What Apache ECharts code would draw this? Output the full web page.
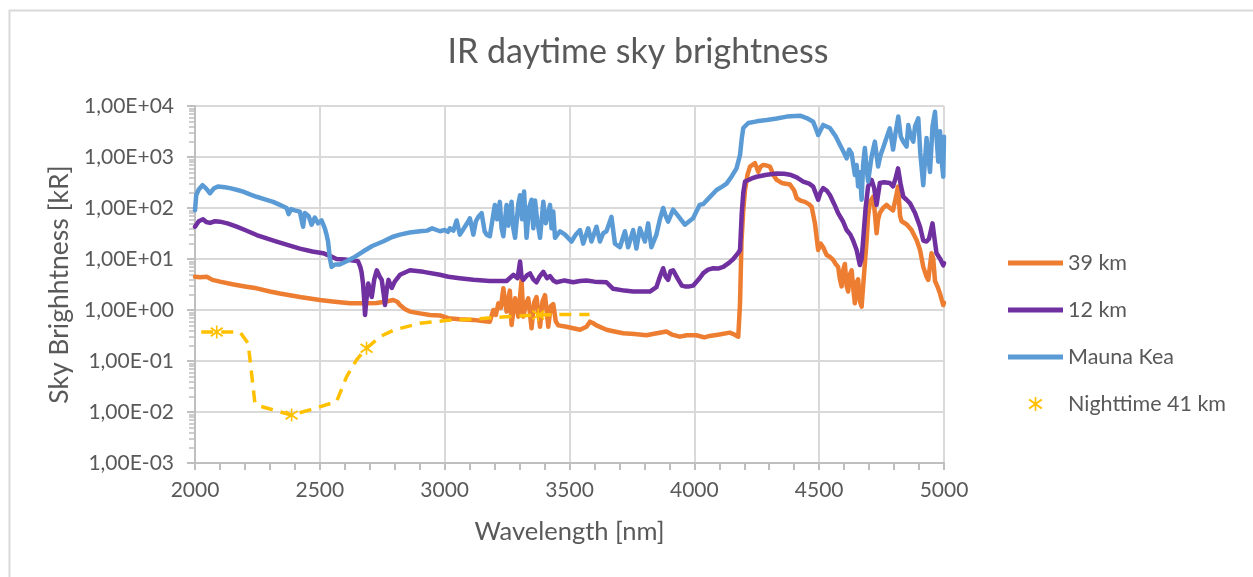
<!DOCTYPE html>
<html>
<head>
<meta charset="utf-8">
<script src="https://cdn.jsdelivr.net/npm/echarts@6/dist/echarts.min.js"></script>
<style>
html,body{margin:0;padding:0;background:#fff;}
#chart{width:1253px;height:577px;}
</style>
</head>
<body>
<div id="chart"></div>
<script>
// ---------- DATA ----------
const chartTitle = 'IR daytime sky brightness';
const xAxisName = 'Wavelength [nm]';
const yAxisName = 'Sky Brighhtness [kR]';
const seriesNames = ['39 km', '12 km', 'Mauna Kea', 'Nighttime 41 km'];
const yTickLabels = ['1,00E-03','1,00E-02','1,00E-01','1,00E+00','1,00E+01','1,00E+02','1,00E+03','1,00E+04'];

const wl39 = [2000,2020,2047,2070,2100,2150,2200,2247,2300,2340,2380,2420,2460,2500,2560,2621,2680,2728,2760,2794,2810,2821,2840,2861,2900,2941,2981,3015,3060,3115,3160,3181,3195,3205,3215,3225,3235,3248,3261,3268,3282,3295,3308,3315,3325,3335,3348,3358,3368,3382,3392,3402,3415,3425,3435,3445,3455,3488,3515,3542,3568,3582,3595,3608,3648,3680,3715,3760,3808,3850,3888,3910,3942,3970,4008,4040,4062,4100,4142,4160,4176,4183,4189,4196,4203,4213,4223,4233,4243,4256,4266,4276,4290,4303,4316,4330,4350,4383,4400,4410,4425,4443,4460,4470,4483,4496,4506,4516,4530,4543,4556,4566,4576,4583,4590,4596,4603,4610,4616,4623,4630,4637,4643,4650,4656,4663,4670,4676,4683,4690,4696,4703,4716,4723,4730,4736,4743,4756,4770,4783,4796,4806,4816,4824,4830,4850,4870,4891,4904,4917,4930,4937,4950,4957,4964,4975,4984,4997,5000];
const val39 = [4.5,4.4,4.5,3.9,3.6,3.2,2.9,2.66,2.3,2.1,1.95,1.8,1.68,1.57,1.45,1.35,1.35,1.37,1.45,1.57,1.45,1.25,1.05,0.93,0.86,0.8,0.78,0.69,0.66,0.64,0.6,0.59,1.0,0.8,1.35,1.1,2.66,0.93,2.4,0.51,1.7,0.74,3.9,0.74,1.3,1.7,0.44,1.4,1.8,0.47,1.5,1.95,0.47,1.2,1.3,0.6,0.5,0.47,0.44,0.41,0.47,0.59,0.55,0.5,0.41,0.38,0.35,0.34,0.32,0.35,0.38,0.33,0.30,0.32,0.32,0.29,0.31,0.33,0.36,0.33,0.30,1.35,23,90,225,450,650,700,755,515,650,700,680,650,450,355,310,290,220,155,140,132,118,105,50,15,20,17,12,11,9.6,8,7,4,2.9,6,8,3,2.3,5,6,2.5,1.35,3.5,4,1.5,1.16,2.9,8,23,70,130,165,80,32,60,80,100,115,100,90,150,265,70,55,48,37,23,15,7,4.5,3.9,13,10,3.7,2.8,2.1,1.25,1.4];

const wl12 = [2000,2015,2032,2045,2060,2080,2100,2130,2167,2200,2247,2290,2327,2370,2420,2470,2513,2540,2567,2600,2620,2653,2662,2667,2673,2678,2681,2686,2694,2708,2718,2728,2740,2748,2756,2761,2768,2775,2788,2800,2821,2861,2915,2981,3015,3060,3115,3180,3248,3275,3292,3302,3308,3315,3330,3342,3355,3368,3380,3395,3410,3422,3435,3448,3480,3515,3542,3568,3600,3648,3675,3720,3755,3790,3822,3848,3862,3875,3885,3895,3905,3915,3935,3950,3962,3980,3995,4021,4036,4055,4076,4095,4116,4140,4156,4175,4183,4190,4196,4203,4230,4250,4290,4330,4360,4383,4410,4436,4460,4476,4496,4505,4516,4530,4543,4560,4576,4595,4610,4625,4636,4650,4663,4670,4676,4686,4696,4710,4720,4730,4743,4760,4783,4796,4806,4816,4826,4837,4850,4864,4884,4904,4917,4930,4940,4954,4962,4970,4985,4997,5000];
const val12 = [43,55,60,53,51,55,54,50,43,37,29.5,25,22,19,16,14,13,11.5,10,9.8,9.5,9,7,5.6,3.3,1.5,0.8,1.5,3.3,1.8,4,6,4.5,3.9,2,1.25,2.5,3.9,2.7,3.6,4.9,6,5.6,4.9,4.5,4.2,3.9,3.7,3.7,4.9,4.2,8.9,4.5,3.9,4.8,5.2,4,3.5,4.5,5.6,4.2,4.6,3.8,3.5,3.8,3.5,3.7,3.8,3.6,3.5,2.6,2.4,2.3,2.3,2.3,2.8,4.5,6.6,4.5,3.9,5.8,6,4,3,2.9,2.9,3,4.2,5.3,6.2,6.6,6.5,7,8.5,10,13,15,80,200,330,380,410,450,475,470,450,400,330,300,263,145,200,245,220,180,120,79,55,37,30,23,15,7.6,10,23,100,265,355,250,115,310,320,310,265,380,600,300,166,145,123,80,43,23,22,25,50,25,13,10,7.5,8.3];

const wlMK = [2000,2005,2015,2030,2045,2060,2075,2092,2120,2140,2170,2193,2220,2247,2280,2313,2340,2367,2375,2385,2400,2420,2428,2433,2440,2455,2467,2480,2493,2507,2520,2527,2533,2540,2547,2560,2580,2607,2640,2673,2710,2753,2790,2821,2860,2901,2930,2950,2968,2981,3000,3013,3021,3035,3048,3061,3081,3095,3101,3115,3125,3135,3148,3160,3168,3181,3201,3210,3221,3228,3235,3248,3255,3268,3275,3282,3295,3302,3310,3318,3328,3338,3348,3355,3362,3370,3382,3395,3405,3422,3428,3435,3442,3462,3482,3508,3525,3542,3555,3575,3588,3608,3622,3635,3648,3668,3682,3702,3722,3735,3755,3768,3782,3802,3815,3828,3848,3862,3875,3885,3895,3915,3935,3962,3995,4021,4036,4060,4089,4110,4129,4150,4169,4183,4190,4196,4216,4250,4290,4330,4370,4423,4450,4476,4490,4496,4516,4543,4565,4583,4600,4610,4620,4630,4643,4650,4656,4663,4670,4676,4683,4690,4696,4710,4723,4736,4746,4756,4770,4783,4796,4806,4817,4827,4837,4850,4857,4866,4877,4884,4897,4905,4917,4925,4930,4937,4944,4954,4964,4970,4977,4984,4990,4997,5000];
const valMK = [90,180,230,280,240,195,240,265,255,245,225,210,185,166,148,132,115,100,76,95,90,85,55,43,80,70,47,65,50,57,40,30,22,10.5,7,7.8,7.8,9,11,14,18,22,27,30,33,35,36,40,37,35,37,34,40,36,57,30,43,55,63,30,55,67,79,35,30,28,115,60,132,40,28,115,45,132,40,26,120,178,60,210,26,100,145,40,140,60,26,132,50,115,40,85,26,35,30,22,30,37,20,40,22,43,22,32,35,67,20,17,35,17,37,16,40,22,50,17,30,60,100,70,54,93,70,47,63,115,120,160,225,260,300,420,600,1100,2300,3700,4650,5000,5300,5700,6200,6450,5800,4900,3300,2700,4250,3700,2600,1730,1200,940,1400,1170,445,700,265,500,145,700,1500,600,330,1020,2000,650,1100,1500,2400,3650,1400,3000,6200,2500,2000,1600,4250,2600,2000,4000,5700,1200,280,265,2350,1000,510,4000,7700,2500,810,3200,900,410,2500];

const wlNight = [2025,2087,2180,2213,2240,2260,2313,2387,2460,2567,2607,2647,2687,2741,2794,2901,3015,3115,3248,3375,3488,3580];
const valNight = [0.37,0.37,0.37,0.22,0.015,0.013,0.011,0.0087,0.011,0.016,0.049,0.105,0.178,0.3,0.4,0.55,0.63,0.66,0.74,0.8,0.82,0.82];
const nightMarkerWl = [2087,2387,2687,3375];

// ---------- STYLE ----------
const colors = ['#ED7D31', '#7030A0', '#5B9BD5', '#FFC000'];
const FONT = 'Lato';
const TXT = '#595959';
const asterisk = 'path://M4.4,0 L5.6,0 L5.6,10 L4.4,10 Z M0,2.3 L0.9,1.2 L10,7.7 L9.1,8.8 Z M9.1,1.2 L10,2.3 L0.9,8.8 L0,7.7 Z';
const lineIcon = 'path://M0,0 L55,0 L55,5 L0,5 Z';

function zip(xs, ys) { return xs.map((x, i) => [x, ys[i]]); }

function lineSeries(name, xs, ys, color) {
  return {
    name: name, type: 'line', data: zip(xs, ys),
    symbol: 'none', showSymbol: false, smooth: false,
    lineStyle: { color: color, width: 4.5, cap: 'round', join: 'round' },
    itemStyle: { color: color },
    emphasis: { disabled: true }
  };
}

const nightData = wlNight.map((w, i) => nightMarkerWl.indexOf(w) >= 0
  ? { value: [w, valNight[i]] }
  : { value: [w, valNight[i]], symbol: 'none' });

const chart = echarts.init(document.getElementById('chart'), null, { renderer: 'canvas' });
chart.setOption({
  animation: false,
  backgroundColor: '#ffffff',
  graphic: [{
    type: 'rect', left: 7, top: 8, silent: true,
    shape: { width: 1270, height: 600 },
    style: { fill: 'none', stroke: '#d9d9d9', lineWidth: 2 }
  }],
  title: {
    text: chartTitle, left: 633, top: 30, textAlign: 'center',
    textStyle: { fontFamily: FONT, fontSize: 34, fontWeight: 'normal', color: TXT }
  },
  legend: {
    orient: 'vertical', left: 1003, top: 247, padding: 5,
    itemWidth: 55, itemHeight: 14, itemGap: 25,
    textStyle: { fontFamily: FONT, fontSize: 21.5, color: TXT, lineHeight: 20 },
    data: [
      { name: seriesNames[0], icon: lineIcon, itemStyle: { color: colors[0], borderWidth: 0 } },
      { name: seriesNames[1], icon: lineIcon, itemStyle: { color: colors[1], borderWidth: 0 } },
      { name: seriesNames[2], icon: lineIcon, itemStyle: { color: colors[2], borderWidth: 0 } },
      { name: seriesNames[3], icon: asterisk, itemStyle: { color: colors[3], borderWidth: 0 } }
    ],
    selectedMode: false
  },
  grid: { left: 195, right: 309, top: 106, bottom: 114, containLabel: false },
  xAxis: {
    type: 'value', min: 2000, max: 5000, interval: 500,
    name: xAxisName, nameLocation: 'middle', nameGap: 56,
    nameTextStyle: { fontFamily: FONT, fontSize: 25.5, color: TXT },
    axisLine: { show: true, lineStyle: { color: '#bfbfbf', width: 2 } },
    axisTick: { show: true, inside: false, length: 7, lineStyle: { color: '#bfbfbf', width: 2 } },
    minorTick: { show: true, splitNumber: 5, length: 7, lineStyle: { color: '#bfbfbf', width: 2 } },
    splitLine: { show: true, lineStyle: { color: '#d9d9d9', width: 2 } },
    axisLabel: { fontFamily: FONT, fontSize: 21, color: TXT, margin: 17, formatter: function (v) { return String(v); } }
  },
  yAxis: {
    type: 'log', logBase: 10, min: 0.001, max: 10000,
    name: yAxisName, nameLocation: 'middle', nameGap: 121, nameRotate: 90,
    nameTextStyle: { fontFamily: FONT, fontSize: 26.5, color: TXT },
    axisLine: { show: true, lineStyle: { color: '#bfbfbf', width: 2 } },
    axisTick: { show: true, inside: false, length: 8, lineStyle: { color: '#bfbfbf', width: 2 } },
    minorTick: { show: true, splitNumber: 9, length: 6, lineStyle: { color: '#bfbfbf', width: 1.5 } },
    splitLine: { show: true, lineStyle: { color: '#d9d9d9', width: 2 } },
    axisLabel: {
      fontFamily: FONT, fontSize: 21, color: TXT, margin: 21,
      formatter: function (v) { const e = Math.round(Math.log10(v)); return yTickLabels[e + 3]; }
    }
  },
  series: [
    lineSeries(seriesNames[0], wl39, val39, colors[0]),
    lineSeries(seriesNames[1], wl12, val12, colors[1]),
    lineSeries(seriesNames[2], wlMK, valMK, colors[2]),
    {
      name: seriesNames[3], type: 'line', data: nightData,
      symbol: asterisk, symbolSize: 13, showSymbol: true, smooth: false,
      lineStyle: { color: colors[3], width: 3.5, type: [12, 8], cap: 'butt', join: 'round' },
      itemStyle: { color: colors[3], borderWidth: 0 },
      emphasis: { disabled: true }
    }
  ]
});
</script>
</body>
</html>
